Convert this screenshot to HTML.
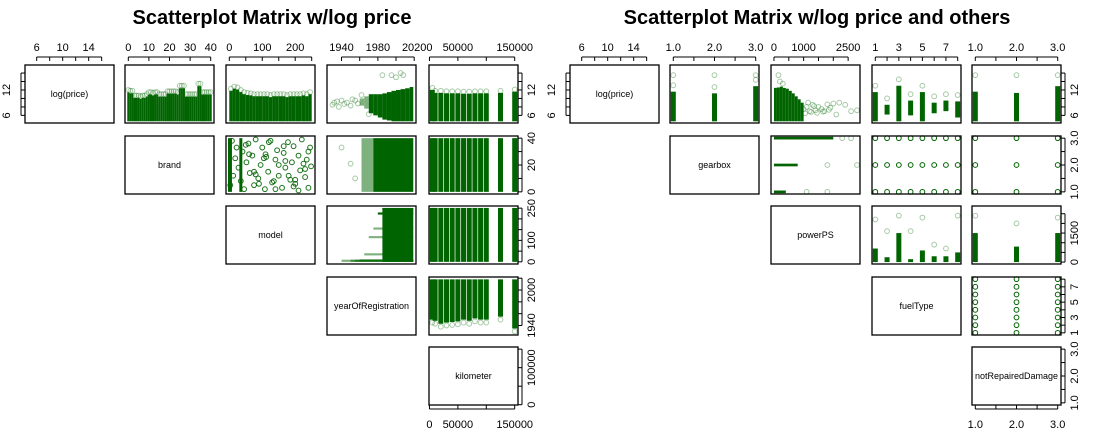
<!DOCTYPE html>
<html><head><meta charset="utf-8"><style>
body{margin:0;background:#fff}
svg{display:block;font-family:"Liberation Sans",Arial,sans-serif}
</style></head><body>
<svg id="c" width="1093" height="434" xmlns="http://www.w3.org/2000/svg">
<text x="272" y="24" font-size="20" font-weight="bold" text-anchor="middle">Scatterplot Matrix w/log price</text>
<text x="817" y="24" font-size="20" font-weight="bold" text-anchor="middle">Scatterplot Matrix w/log price and others</text>
</svg>
<script>
// ---- data arrays ----
const brandIdx=[0,1,2,3,4,5,6,7,8,9,10,11,12,13,14,15,16,17,18,19,20,21,22,23,24,25,26,27,28,29,30,31,32,33,34,35,36,37,38,39,40];
const brandPriceHi=[12,11.8,11.8,10.7,10.7,10.7,10.5,10.7,10.7,11,11.5,11.5,11.3,11.5,11.5,11,11,11,11,11.7,11.7,11.7,11.7,11.7,11.5,13,13,13,11,11,11,11,11,11,13.5,13.5,11.5,11.5,11.5,11.5,11.5];
const modelBins=[0,10,20,30,40,50,60,70,80,90,100,110,120,130,140,150,160,170,180,190,200,210,220,230,240];
const modelPriceHi=[12.3,12.8,12.6,12,11.5,11.3,11.2,11,11,11,11,11,10.8,11,11,11,11,10.8,11,11,11,11,11.2,11,11.5];
const yearBins=[1960,1965,1970,1975,1980,1985,1990,1995,2000,2005,2010,2015];
const yearPriceLo=[8.3,7.6,6.5,6,5.5,5,4.8,4.6,4.6,4.6,4.6,4.6];
const yearPriceHi=[10,10.5,11,11,11,11.2,11.5,11.8,12,12.2,12.4,12.7];
const yearOutX=[1930,1932,1935,1937,1940,1943,1946,1950,1952,1955,1958,1962,1970,1985,1995,2000,2005,2008];
const yearOutY=[8.5,9,9.3,8,9.5,8.7,9,8.3,9.8,9.5,8.8,10.8,6.3,15.5,15.5,15,16,15.5];
const kmVals=[5000,10000,20000,30000,40000,50000,60000,70000,80000,90000,100000,125000,150000];
const kmPriceHi=[12.5,11.8,11.8,11.7,11.7,11.7,11.6,11.6,11.7,11.7,11.7,11.8,12.1];
const brandModelX=[3,8,12,18,22,28,35,40,45,52,58,62,70,75,80,88,95,100,108,112,118,125,130,140,145,150,160,165,170,178,185,190,195,200,210,215,220,230,235,240,245,248,60,90,120,150,180,210,240,75,105,135,165,195,225,50,80,110,140,170,200,230];
const brandModelY=[5,38,12,25,33,18,8,30,2,22,36,14,27,5,39,10,20,33,2,26,15,38,7,24,31,12,3,29,18,37,9,22,34,6,27,16,39,11,24,3,33,19,28,6,37,20,12,1,30,15,25,8,34,4,21,35,13,28,2,23,9,17];
const modelYearLoX=[1940,1950,1955,1960,1965,1970,1975,1980,1985];
const modelYearHi=[10,10,10,12,40,120,160,230,250];
const kmYearLo=[1950,1948,1943,1945,1946,1947,1950,1948,1952,1950,1950,1955,1935];
const gearVals=[1,2,3];
const gearPriceHi=[11.6,11.2,12.9];
const powerBlobX=[0,100,200,300,400,500,600,700,800,900];
const powerBlobHi=[12.5,12.6,12.8,12.5,12.3,11.8,11.2,10.5,9.8,9];
const powerOutX=[1000,1100,1200,1300,1400,1500,1600,1700,1800,1900,2000,2200,2400,2600,2800,1050,1250,1450,1650,1850,2100,150,200,300,1150,1350];
const powerOutY=[7.5,8,7,8.5,7.2,8,7.5,7,8.6,7.8,8.8,9,8.5,7,7.2,6.5,6.8,6.6,6.9,7.3,6.2,15.5,14,13.5,9,8.2];
const fuelVals=[1,2,3,4,5,6,7,8];
const fuelPriceLo=[4.6,6.2,4.6,6,4.6,6.5,7,5.5];
const fuelPriceHi=[11.5,8.5,13,9.5,11.5,9,9.5,9.3];
const nrdVals=[1,2,3];
const nrdPriceHi=[11.6,11.3,12.9];
const gearPowerHi=[400,800,2000];
const gearPowerOut=[1800,2800,2600];
const fuelPowerHi=[700,250,1500,150,600,300,300,500];
const fuelPowerOut=[2200,1600,2400,1600,2300,900,700,2400];
const nrdPowerHi=[1500,800,1500];
const nrdPowerOut=[2400,2000,2300];

// ---- variable definitions ----
const V={
 lp:{r:[4.2,17.9],t:[6,8,10,12,14,16],top:[6,10,14],side:[6,12]},
 brand:{r:[-1.6,41.6],t:[0,10,20,30,40],top:[0,10,20,30,40],side:[0,20,40]},
 model:{r:[-10,260],t:[0,50,100,150,200,250],top:[0,100,200],side:[0,100,250]},
 year:{r:[1924,2022],t:[1940,1960,1980,2000,2020],top:[1940,1980,2020],side:[1940,2000]},
 km:{r:[-800,155800],t:[0,50000,100000,150000],top:[0,50000,150000],side:[0,100000]},
 gear:{r:[0.92,3.08],t:[1,1.5,2,2.5,3],top:[1,2,3],side:[1,2,3],fmt:1},
 power:{r:[-100,2900],t:[0,500,1000,1500,2000,2500],top:[0,1000,2500],side:[0,1500]},
 fuel:{r:[0.72,8.28],t:[1,2,3,4,5,6,7,8],top:[1,3,5,7],side:[1,3,5,7]},
 nrd:{r:[0.92,3.08],t:[1,1.5,2,2.5,3],top:[1,2,3],side:[1,2,3],fmt:1}
};
const svg=document.getElementById('c');
const NS='http://www.w3.org/2000/svg';
function mk(tag,at,parent){const e=document.createElementNS(NS,tag);for(const k in at)e.setAttribute(k,at[k]);(parent||svg).appendChild(e);return e;}
const rowsY=[65,136,206,277,347],PH=58,PW=89;
const G='#006400';
function fmt(v,d){return d?v.toFixed(1):String(v);}

function buildMatrix(colsX,vars,labels,prefix){
 const P={};
 for(let i=0;i<5;i++){for(let j=i;j<5;j++){
  const x0=colsX[j],y0=rowsY[i];
  const xv=V[vars[j]],yv=V[vars[i]];
  const sx=v=>x0+(v-xv.r[0])/(xv.r[1]-xv.r[0])*PW;
  const sy=v=>y0+PH-(v-yv.r[0])/(yv.r[1]-yv.r[0])*PH;
  const g=mk('g',{});
  
  
  P[i+'_'+j]={g,sx,sy,x0,y0};
  if(i===j){
   const t=mk('text',{x:x0+PW/2,y:y0+PH/2+3,'font-size':9,'text-anchor':'middle'},g);
   t.textContent=labels[i];
   
   
  }
 }}
 for(let j=0;j<5;j++){
  const xv=V[vars[j]],x0=colsX[j];
  const sx=v=>x0+(v-xv.r[0])/(xv.r[1]-xv.r[0])*PW;
  const ax=mk('g',{stroke:'#000','stroke-width':1});
  
  
  const a=sx(xv.t[0]),b=sx(xv.t[xv.t.length-1]);
  mk('line',{x1:a,y1:57,x2:b,y2:57},ax);
  xv.t.forEach(v=>mk('line',{x1:sx(v),y1:57,x2:sx(v),y2:61},ax));
  xv.top.forEach(v=>{const t=mk('text',{x:sx(v),y:51,'font-size':11,'text-anchor':'middle',stroke:'none'},ax);t.textContent=fmt(v,xv.fmt);});
 }
 for(let i=0;i<5;i++){
  const yv=V[vars[i]],y0=rowsY[i],xr=colsX[4]+PW;
  const sy=v=>y0+PH-(v-yv.r[0])/(yv.r[1]-yv.r[0])*PH;
  const ax=mk('g',{stroke:'#000','stroke-width':1});
  
  
  mk('line',{x1:xr+4,y1:sy(yv.t[0]),x2:xr+4,y2:sy(yv.t[yv.t.length-1])},ax);
  yv.t.forEach(v=>mk('line',{x1:xr,y1:sy(v),x2:xr+4,y2:sy(v)},ax));
  yv.side.forEach(v=>{const t=mk('text',{x:xr+17,y:sy(v),'font-size':11,'text-anchor':'middle',stroke:'none',transform:`rotate(-90 ${xr+17} ${sy(v)})`},ax);t.textContent=fmt(v,yv.fmt);});
 }
 {const yv=V[vars[0]],y0=rowsY[0],xl=colsX[0];const sy=v=>y0+PH-(v-yv.r[0])/(yv.r[1]-yv.r[0])*PH;
  const ax=mk('g',{stroke:'#000'});
  
  
  mk('line',{x1:xl-4,y1:sy(yv.t[0]),x2:xl-4,y2:sy(yv.t[yv.t.length-1])},ax);
  yv.t.forEach(v=>mk('line',{x1:xl-4,y1:sy(v),x2:xl,y2:sy(v)},ax));
  yv.side.forEach(v=>{const t=mk('text',{x:xl-15,y:sy(v),'font-size':11,'text-anchor':'middle',stroke:'none',transform:`rotate(-90 ${xl-15} ${sy(v)})`},ax);t.textContent=v;});}
 {const xv=V[vars[4]],x0=colsX[4];const sx=v=>x0+(v-xv.r[0])/(xv.r[1]-xv.r[0])*PW;const yb=rowsY[4]+PH+4;
  const ax=mk('g',{stroke:'#000'});
  
  
  mk('line',{x1:sx(xv.t[0]),y1:yb,x2:sx(xv.t[xv.t.length-1]),y2:yb},ax);
  xv.t.forEach(v=>mk('line',{x1:sx(v),y1:yb-4,x2:sx(v),y2:yb},ax));
  xv.top.forEach(v=>{const t=mk('text',{x:sx(v),y:428,'font-size':11,'text-anchor':'middle',stroke:'none'},ax);t.textContent=fmt(v,xv.fmt);});}
 return P;
}
function rect(p,xa,xb,ya,yb,op){const a=p.sx(xa),b=p.sx(xb),c=p.sy(yb),d=p.sy(ya);
 const r=mk('rect',{x:Math.min(a,b),y:Math.min(c,d),width:Math.abs(b-a),height:Math.abs(d-c),fill:G,'fill-opacity':op==null?1:op},p.g);
 
 }
function bar(p,x,lo,hi,wpx,op){const c=p.sx(x);const r=mk('rect',{x:c-wpx/2,y:p.sy(hi),width:wpx,height:p.sy(lo)-p.sy(hi),fill:G,'fill-opacity':op==null?1:op},p.g);
 
 }
function pt(p,x,y,op){const c=mk('circle',{cx:p.sx(x),cy:p.sy(y),r:2.4,fill:'none',stroke:G,'stroke-opacity':op==null?0.35:op,'stroke-width':1},p.g);
 
 }
function frames(P){for(const k in P){const p=P[k];const f=mk('rect',{x:p.x0,y:p.y0,width:PW,height:PH,fill:'none',stroke:'#000','stroke-width':1.3},p.g);
 
 }}

// ---- left matrix ----
const L=buildMatrix([25,125,226,327,429],['lp','brand','model','year','km'],['log(price)','brand','model','yearOfRegistration','kilometer'],'left');
brandIdx.forEach((b,k)=>{rect(L['0_1'],b-0.5,b+0.5,4.6,brandPriceHi[k]-0.6);pt(L['0_1'],b,brandPriceHi[k]);});
modelBins.forEach((m,k)=>{rect(L['0_2'],m,m+10,4.6,modelPriceHi[k]-0.5);pt(L['0_2'],m+5,modelPriceHi[k]);});
yearBins.forEach((y,k)=>{rect(L['0_3'],y,Math.min(y+5,2019),yearPriceLo[k],yearPriceHi[k],k<2?0.5:1);});
yearOutX.forEach((x,k)=>pt(L['0_3'],x,yearOutY[k]));
kmVals.forEach((v,k)=>{bar(L['0_4'],v,4.6,kmPriceHi[k]-0.5,5);pt(L['0_4'],v,kmPriceHi[k]);bar(L['1_4'],v,0,40,5);bar(L['2_4'],v,0,251,5);bar(L['3_4'],v,kmYearLo[k],2018,5);pt(L['3_4'],v,kmYearLo[k]-5);});
brandModelX.forEach((x,k)=>pt(L['1_2'],x,brandModelY[k],0.9));
bar(L['1_2'],2,0,40,4);bar(L['1_2'],35,0,40,3);
rect(L['1_3'],1975,2019,0,40);rect(L['1_3'],1962,1975,0,40,0.5);
[1940,1950,1955].forEach((x,k)=>pt(L['1_3'],x,[33,21,10][k]));
modelYearLoX.forEach((x,k)=>rect(L['2_3'],x,2019,modelYearHi[k]-10,modelYearHi[k],x<1980?0.5:1));
rect(L['2_3'],1985,2019,0,251);
// ---- right matrix ----
const R=buildMatrix([570,670,771,872,972],['lp','gear','power','fuel','nrd'],['log(price)','gearbox','powerPS','fuelType','notRepairedDamage'],'right');
gearVals.forEach((g,k)=>{bar(R['0_1'],g,4.6,gearPriceHi[k],5);pt(R['0_1'],g,gearPriceHi[k]+1.5);pt(R['0_1'],g,15.5);
 rect(R['1_2'],0,gearPowerHi[k],g-0.05,g+0.05);pt(R['1_2'],gearPowerOut[k],g);pt(R['1_2'],(gearPowerHi[k]+gearPowerOut[k])/2,g);
 bar(R['2_4'],g,0,nrdPowerHi[k],5);pt(R['2_4'],g,nrdPowerOut[k]);
 nrdVals.forEach(n=>pt(R['1_4'],n,g,1));});
powerBlobX.forEach((x,k)=>rect(R['0_2'],x,x+100,4.6,powerBlobHi[k]));
powerOutX.forEach((x,k)=>pt(R['0_2'],x,powerOutY[k]));
fuelVals.forEach((f,k)=>{bar(R['0_3'],f,fuelPriceLo[k],fuelPriceHi[k],5);pt(R['0_3'],f,fuelPriceHi[k]+1.5);
 bar(R['2_3'],f,0,fuelPowerHi[k],5);pt(R['2_3'],f,fuelPowerOut[k]);
 gearVals.forEach(g=>pt(R['1_3'],f,g,1));
 nrdVals.forEach(n=>pt(R['3_4'],n,f,1));});
nrdVals.forEach((n,k)=>{bar(R['0_4'],n,4.6,nrdPriceHi[k],5);pt(R['0_4'],n,15.5);});
frames(L);frames(R);
</script>
</body></html>
